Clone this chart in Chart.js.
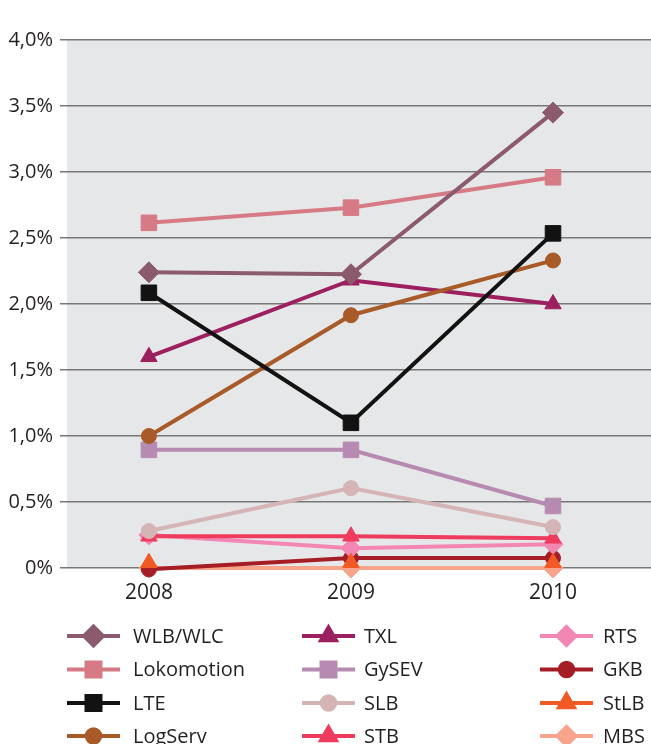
<!DOCTYPE html>
<html>
<head>
<meta charset="utf-8">
<script src="https://cdn.jsdelivr.net/npm/chart.js@4"></script>
<style>
  html, body { margin: 0; padding: 0; background: #fff; }
</style>
</head>
<body>
<canvas id="myChart" width="651" height="744"></canvas>
<script>
// categories and tick labels
const years = ['2008', '2009', '2010'];
const yTickLabels = ['0%', '0,5%', '1,0%', '1,5%', '2,0%', '2,5%', '3,0%', '3,5%', '4,0%'];

// series (in %)
const wlb = [2.24, 2.225, 3.45];
const lokomotion = [2.615, 2.73, 2.96];
const lte = [2.085, 1.10, 2.535];
const logServ = [1.0, 1.915, 2.33];
const txl = [1.60, 2.18, 2.0];
const gysev = [0.895, 0.895, 0.47];
const slb = [0.28, 0.605, 0.31];
const stb = [0.24, 0.24, 0.225];
const rts = [0.25, 0.15, 0.18];
const gkb = [-0.01, 0.075, 0.075];
const stlb = [0.04, 0.04, 0.04];
const mbs = [0, 0, 0];

const names = ['WLB/WLC', 'Lokomotion', 'LTE', 'LogServ', 'TXL', 'GySEV', 'SLB', 'STB', 'RTS', 'GKB', 'StLB', 'MBS'];
const values = [wlb, lokomotion, lte, logServ, txl, gysev, slb, stb, rts, gkb, stlb, mbs];

const colors = ['#8c5a6e', '#d67b85', '#121212', '#a85a28', '#9c1f5f', '#b78bb1', '#d4b4b4', '#ee3c5f', '#f387b4', '#a51d25', '#f15a24', '#f7a48a'];
const styles = ['rectRot', 'rect', 'rect', 'circle', 'triangle', 'rect', 'circle', 'triangle', 'rectRot', 'circle', 'triangle', 'rectRot'];
const radii = [10.5, 11, 11, 7.5, 9.5, 11, 7.5, 9.5, 10, 7.5, 9.5, 10];

const fontFamily = "'Open Sans', sans-serif";
const textColor = '#231f20';

const bgPlugin = {
    id: 'plotBg',
    beforeDraw(chart) {
        const a = chart.chartArea;
        const ctx = chart.ctx;
        ctx.save();
        ctx.fillStyle = '#e6e7e8';
        ctx.fillRect(a.left + 7, a.top, a.right - a.left - 7, a.bottom - a.top);
        ctx.restore();
    }
};

// legend in 3 columns x 4 rows, column by column
const legendLineX = [67, 302, 540];
const legendTextX = [133, 364, 603];
const legendRowY = [636, 669.5, 703, 736];

const legendPlugin = {
    id: 'gridLegend',
    afterDraw(chart) {
        const ctx = chart.ctx;
        ctx.save();
        chart.data.datasets.forEach((ds, i) => {
            const col = Math.floor(i / 4);
            const row = i % 4;
            const x0 = legendLineX[col];
            const y = legendRowY[row];
            ctx.strokeStyle = ds.borderColor;
            ctx.lineWidth = 4;
            ctx.beginPath();
            ctx.moveTo(x0, y);
            ctx.lineTo(x0 + 53, y);
            ctx.stroke();
            ctx.fillStyle = ds.backgroundColor;
            ctx.strokeStyle = ds.borderColor;
            Chart.helpers.drawPoint(ctx, {
                pointStyle: ds.pointStyle,
                radius: ds.pointRadius * 0.9,
                rotation: 0,
                borderWidth: 1
            }, x0 + 26.5, y);
            ctx.fillStyle = textColor;
            ctx.font = '20px ' + fontFamily;
            ctx.textBaseline = 'middle';
            ctx.textAlign = 'left';
            ctx.fillText(ds.label, legendTextX[col], y + 1);
        });
        ctx.restore();
    }
};

const datasets = names.map((name, i) => ({
    label: name,
    data: values[i].map((v, j) => ({ x: j, y: v })),
    borderColor: colors[i],
    backgroundColor: colors[i],
    borderWidth: 4,
    pointStyle: styles[i],
    pointRadius: radii[i],
    pointHoverRadius: radii[i],
    pointBorderWidth: 1,
    tension: 0,
    clip: false,
    // StLB: only its markers show in the picture, its line sits hidden
    showLine: name !== 'StLB',
    order: name === 'StLB' ? -1 : 0
}));

new Chart(document.getElementById('myChart').getContext('2d'), {
    type: 'line',
    data: { datasets: datasets },
    options: {
        responsive: false,
        animation: false,
        events: [],
        layout: { autoPadding: false, padding: { top: 40, left: 0, right: 0, bottom: 0 } },
        plugins: {
            legend: { display: false },
            tooltip: { enabled: false }
        },
        scales: {
            x: {
                type: 'linear',
                min: -0.44,
                max: 2.485,
                afterBuildTicks: s => { s.ticks = years.map((y, i) => ({ value: i })); },
                afterFit: s => {
                    s.height = 176;
                    s.paddingLeft = 0;
                    s.paddingRight = 0;
                },
                ticks: {
                    callback: v => years[v],
                    font: { family: fontFamily, size: 21 },
                    color: textColor,
                    padding: 4,
                    maxRotation: 0,
                    autoSkip: false
                },
                grid: { display: false },
                border: { display: false }
            },
            y: {
                min: 0,
                max: 4,
                afterFit: s => { s.width = 60; },
                ticks: {
                    stepSize: 0.5,
                    callback: v => yTickLabels[Math.round(v * 2)],
                    font: { family: fontFamily, size: 20 },
                    color: textColor,
                    padding: 7
                },
                grid: { color: '#777777', lineWidth: 1.5, drawTicks: false },
                border: { display: false }
            }
        }
    },
    plugins: [bgPlugin, legendPlugin]
});
</script>
</body>
</html>
